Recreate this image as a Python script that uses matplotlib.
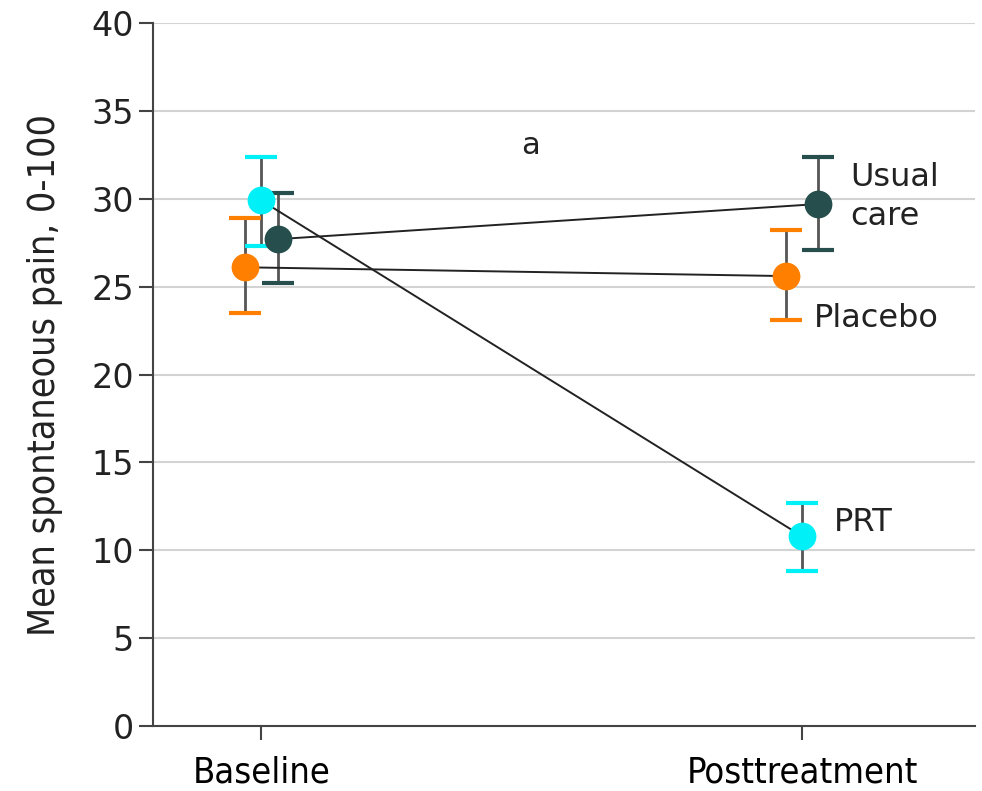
import numpy as np
import matplotlib.pyplot as plt

# Data
timepoints = ['Baseline', 'Posttreatment']
groups = ['Placebo', 'PRT', 'Usual care']
means = {
    'Placebo': [26.1, 25.6],
    'PRT': [29.9, 10.8],
    'Usual care': [27.7, 29.7],
}
upper = {
    'Placebo': [28.9, 28.2],
    'PRT': [32.4, 12.7],
    'Usual care': [30.3, 32.4],
}
lower = {
    'Placebo': [23.5, 23.1],
    'PRT': [27.3, 8.8],
    'Usual care': [25.2, 27.1],
}
colors = {'Placebo': '#FF7F00', 'PRT': '#00F0F8', 'Usual care': '#254E4C'}
offsets = {'Placebo': -0.03, 'PRT': 0.0, 'Usual care': 0.03}
end_labels = {'Placebo': 'Placebo', 'PRT': 'PRT', 'Usual care': 'Usual\ncare'}

fig = plt.figure(figsize=(9.82, 7.91), dpi=100)
ax = fig.add_axes([0.156, 0.082, 0.837, 0.889])

x = np.arange(len(timepoints))
for g in groups:
    xs = x + offsets[g]
    m = np.array(means[g])
    lo = m - np.array(lower[g])
    hi = np.array(upper[g]) - m
    # vertical error bars in gray
    ax.errorbar(xs, m, yerr=[lo, hi], fmt='none', ecolor='#555555', elinewidth=2, capsize=0, zorder=2)
    # colored caps
    ax.plot(xs, upper[g], ls='none', marker='_', ms=23, mew=3, color=colors[g], zorder=3)
    ax.plot(xs, lower[g], ls='none', marker='_', ms=23, mew=3, color=colors[g], zorder=3)

# connecting lines
for g in groups:
    ax.plot(x + offsets[g], means[g], color='#222222', lw=1.4, zorder=4)

# markers
for g in groups:
    ax.plot(x + offsets[g], means[g], ls='none', marker='o', ms=20, color=colors[g], mec='none', zorder=5)

# end labels
ax.text(1.089, 30.1, end_labels['Usual care'], fontsize=23, va='center', ha='left',
        color='#222222', linespacing=1.3)
ax.text(1.022, 23.2, end_labels['Placebo'], fontsize=23, va='center', ha='left', color='#222222')
ax.text(1.059, 11.6, end_labels['PRT'], fontsize=23, va='center', ha='left', color='#222222')
ax.text(0.497, 33.0, 'a', fontsize=22, va='center', ha='center', color='#222222')

ax.set_xlim(-0.2, 1.32)
ax.set_ylim(0, 40)
ax.set_yticks(np.arange(0, 41, 5))
ax.set_xticks(x)
ax.set_xticklabels(timepoints, fontsize=26, fontstretch='condensed')
ax.tick_params(axis='y', labelsize=24, length=10, width=1.5, color='#444444', pad=4)
ax.tick_params(axis='x', length=10, width=1.5, color='#444444', pad=11)
for lbl in ax.get_yticklabels():
    lbl.set_color('#222222')

ax.set_ylabel('Mean spontaneous pain, 0-100', fontsize=27, fontstretch='condensed', labelpad=20, color='#222222')

ax.yaxis.grid(True, color='#D3D3D3', lw=1.5)
ax.set_axisbelow(True)
for s in ['top', 'right']:
    ax.spines[s].set_visible(False)
for s in ['left', 'bottom']:
    ax.spines[s].set_color('#444444')
    ax.spines[s].set_linewidth(1.5)

fig.savefig('out.png', dpi=100)
